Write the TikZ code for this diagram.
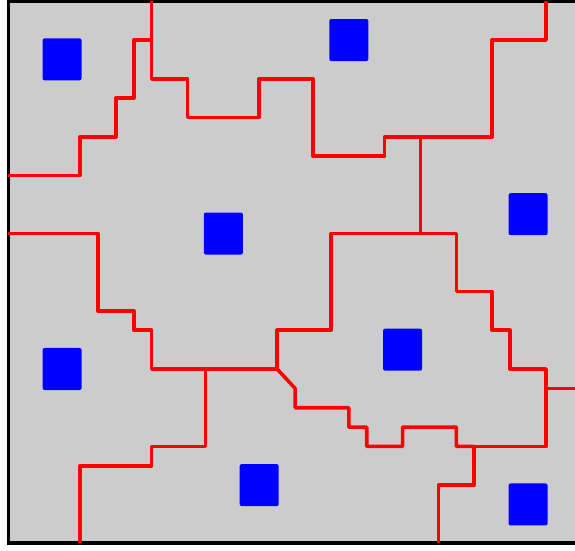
\documentclass[tikz,border=0pt]{standalone}
\usepackage{tikz}
\definecolor{bg}{gray}{0.8}

\begin{document}
\begin{tikzpicture}[
    x=17.92pt, y=-19.35pt,
    site/.style={fill=blue,rounded corners=2pt,inner sep=0pt,
                 minimum width=39pt,minimum height=42pt},
    wall/.style={red,line width=3.6pt,line join=round}]
  \useasboundingbox (-0.463,-0.067) rectangle (31.62,28.36);
  \clip (-0.463,-0.067) rectangle (31.62,28.36);
  \filldraw[fill=bg,line width=3.4pt] (0,0) rectangle (33,28);
  % cell borders
  \draw[wall] (0,9) -- (4,9) -- (4,7) -- (6,7) -- (6,5) -- (7,5) -- (7,2) -- (8,2);
  \draw[wall] (8,0) -- (8,4) -- (10,4) -- (10,6) -- (14,6) -- (14,4) -- (17,4)
    -- (17,8) -- (21,8) -- (21,7) -- (27,7) -- (27,2) -- (30,2) -- (30,0);
  \draw[wall] (23,7) -- (23,12);
  \draw[wall] (0,12) -- (5,12) -- (5,16) -- (7,16) -- (7,17) -- (8,17) -- (8,19) -- (15,19);
  \draw[wall] (15,19) -- (15,17) -- (18,17) -- (18,12) -- (25,12) -- (25,15) -- (27,15)
    -- (27,17) -- (28,17) -- (28,19) -- (30,19) -- (30,23) -- (26,23);
  \draw[wall] (30,20) -- (33,20);
  \draw[wall] (15,19) -- (16,20) -- (16,21) -- (19,21) -- (19,22) -- (20,22) -- (20,23)
    -- (22,23) -- (22,22) -- (25,22) -- (25,23) -- (26,23);
  \draw[wall] (26,23) -- (26,25) -- (24,25) -- (24,28);
  \draw[wall] (11,19) -- (11,23) -- (8,23) -- (8,24) -- (4,24) -- (4,28);
  % sites
  \node[site] (s1) at (3,3) {};
  \node[site] (s2) at (19,2) {};
  \node[site] (s3) at (12,12) {};
  \node[site] (s4) at (29,11) {};
  \node[site] (s5) at (3,19) {};
  \node[site] (s6) at (22,18) {};
  \node[site] (s7) at (14,25) {};
  \node[site] (s8) at (29,26) {};
\end{tikzpicture}
\end{document}
